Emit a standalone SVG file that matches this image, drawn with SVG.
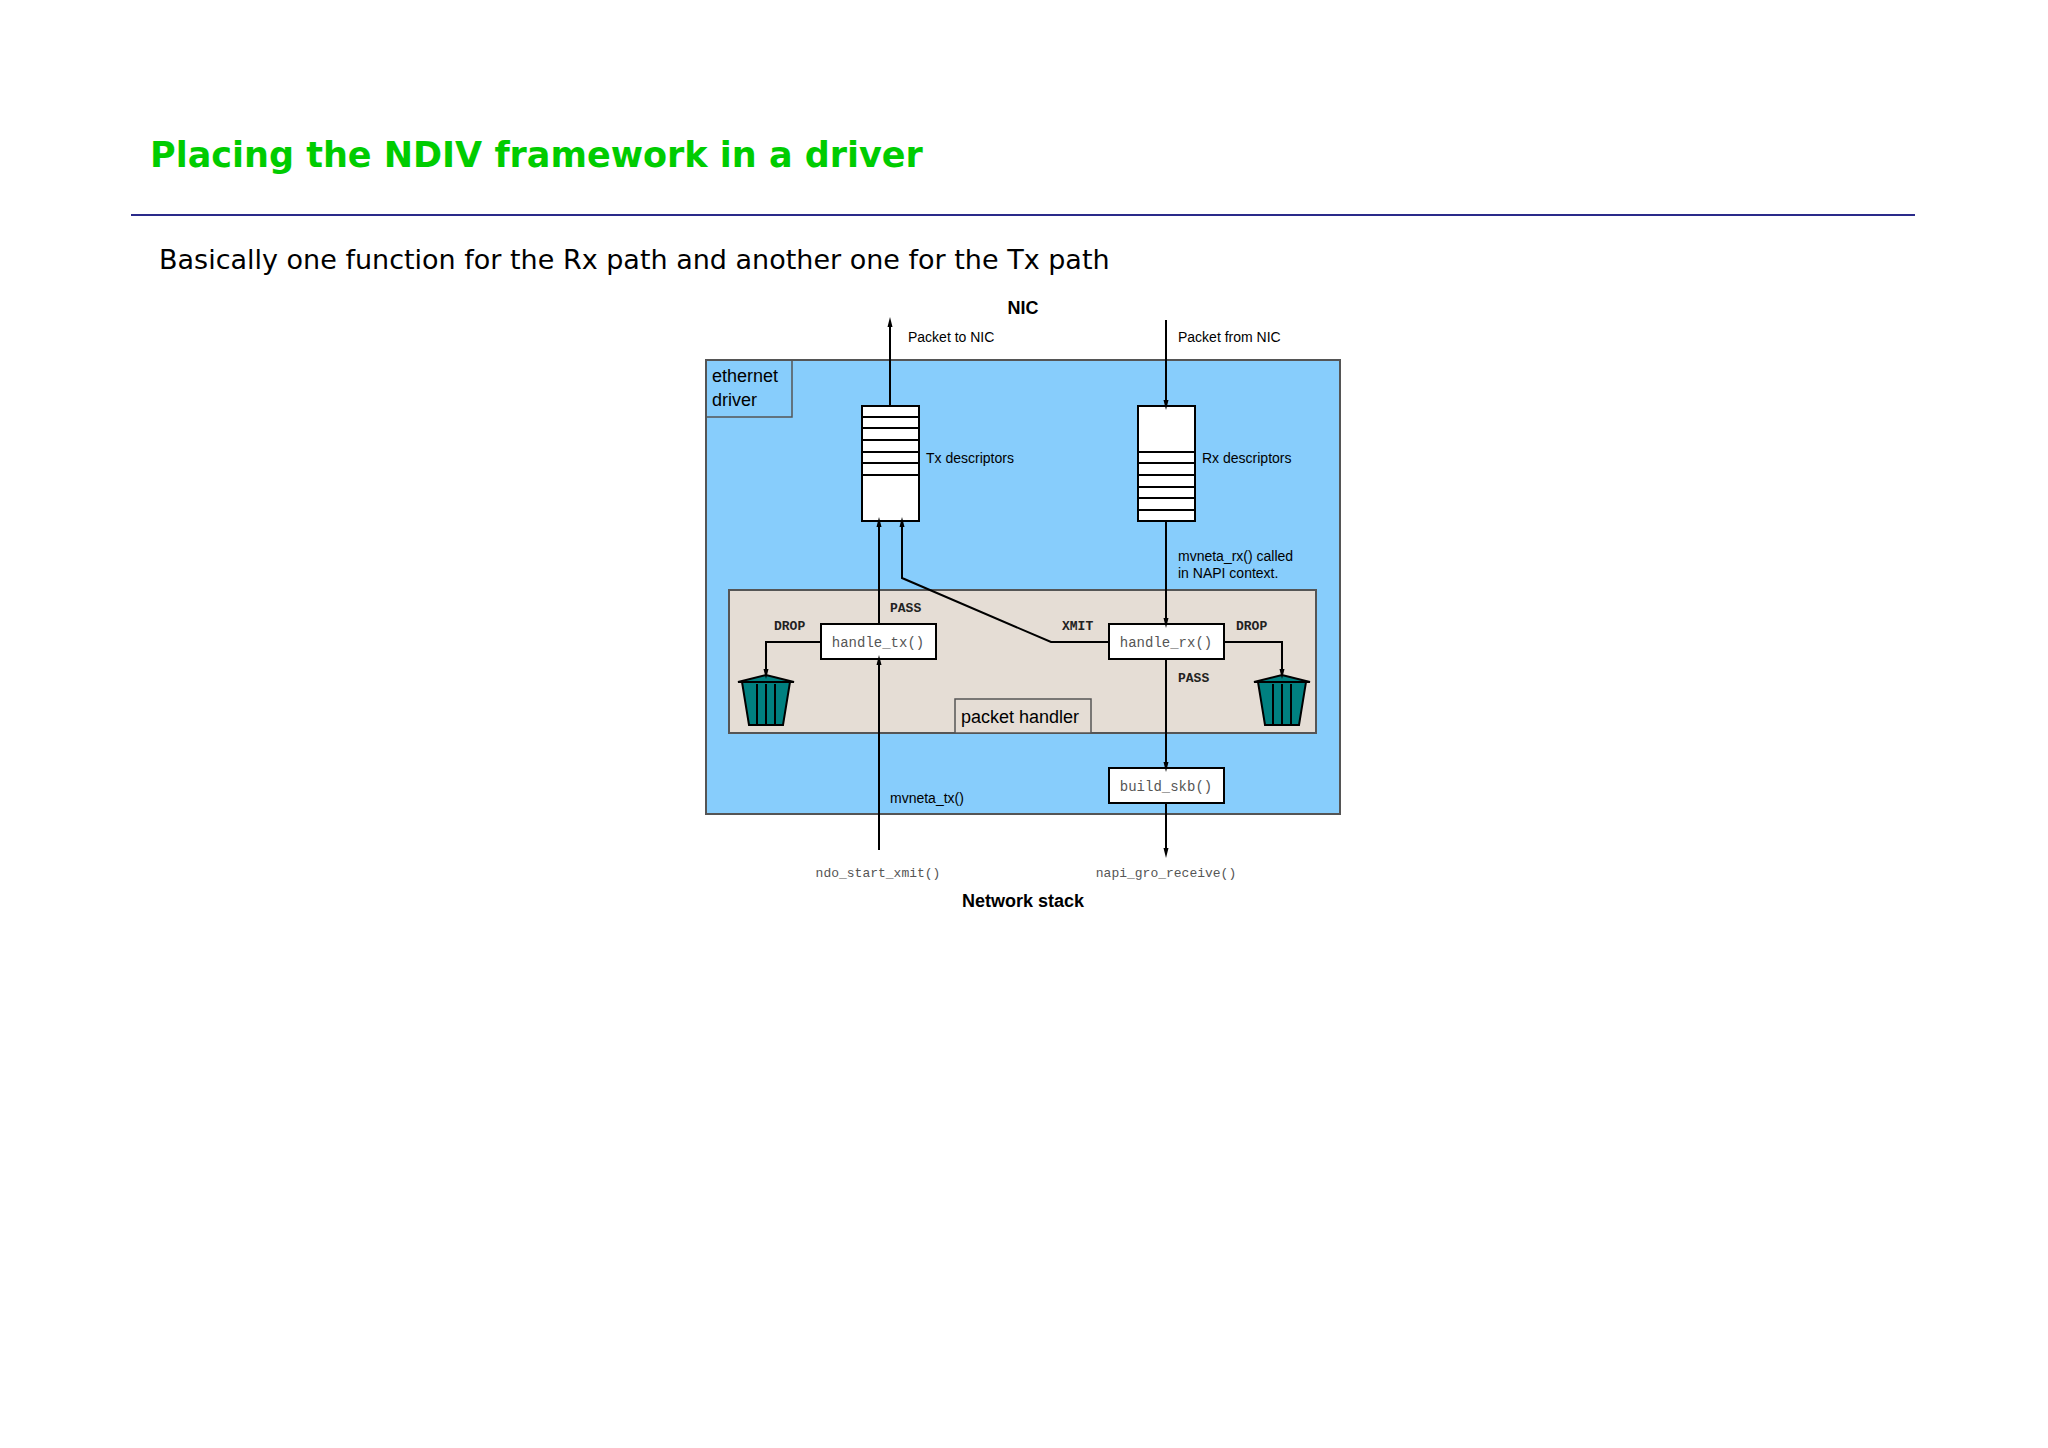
<svg xmlns="http://www.w3.org/2000/svg" width="2048" height="1448" viewBox="0 0 2048 1448">
<style>
.s{font-family:"Liberation Sans",Arial,sans-serif;fill:#000}
.m{font-family:"Liberation Mono","Courier New",monospace;fill:#555}
.mb{font-family:"Liberation Mono","Courier New",monospace;font-weight:bold;fill:#222;font-size:13px}
.box{fill:#fff;stroke:#000;stroke-width:2}
.ln{stroke:#000;stroke-width:2;fill:none}
.bin{fill:#008080;stroke:#000;stroke-width:2}
</style>
<defs><marker id="a" markerWidth="10" markerHeight="20" refX="10" refY="5" orient="auto" markerUnits="userSpaceOnUse" viewBox="0 0 20 10"><path d="M0,0 L20,5 L0,10 z" fill="#000"/></marker></defs>
<rect width="2048" height="1448" fill="#fff"/>
<text x="150" y="167" font-family="DejaVu Sans,sans-serif" font-weight="bold" font-size="35" fill="#00cc00">Placing the NDIV framework in a driver</text>
<line x1="131" y1="215" x2="1915" y2="215" stroke="#2a2a8a" stroke-width="2"/>
<text x="159" y="269" font-family="DejaVu Sans,sans-serif" font-size="27" fill="#000">Basically one function for the Rx path and another one for the Tx path</text>
<g id="driver"><rect x="706" y="360" width="634" height="454" fill="#87cdfc" stroke="#555" stroke-width="2"/>
<rect x="706" y="360" width="86" height="57" fill="none" stroke="#555" stroke-width="1.5"/>
<text class="s" x="712" y="382" font-size="18">ethernet</text><text class="s" x="712" y="406" font-size="18">driver</text></g>
<g id="handler"><rect x="729" y="590" width="587" height="143" fill="#e5ddd5" stroke="#555" stroke-width="2"/>
<rect x="955" y="699" width="136" height="34" fill="#e5ddd5" stroke="#555" stroke-width="1.5"/>
<text class="s" x="961" y="723" font-size="18">packet handler</text></g>
<text class="s" x="1023" y="314" font-size="18" font-weight="bold" text-anchor="middle">NIC</text>
<text class="s" x="1023" y="907" font-size="18" font-weight="bold" text-anchor="middle">Network stack</text>
<g id="tx"><rect class="box" x="862" y="406" width="57" height="115"/>
<path class="ln" d="M862,417H919M862,428H919M862,440H919M862,452H919M862,463H919M862,475H919"/>
<text class="s" x="926" y="463" font-size="14">Tx descriptors</text></g>
<g id="rx"><rect class="box" x="1138" y="406" width="57" height="115"/>
<path class="ln" d="M1138,452H1195M1138,463H1195M1138,475H1195M1138,487H1195M1138,498H1195M1138,510H1195"/>
<text class="s" x="1202" y="463" font-size="14">Rx descriptors</text></g>
<g id="htx"><rect class="box" x="821" y="624" width="115" height="35"/><text class="m" x="878" y="647" font-size="14" text-anchor="middle">handle_tx()</text></g>
<g id="hrx"><rect class="box" x="1109" y="624" width="115" height="35"/><text class="m" x="1166" y="647" font-size="14" text-anchor="middle">handle_rx()</text></g>
<g id="skb"><rect class="box" x="1109" y="768" width="115" height="35"/><text class="m" x="1166" y="791" font-size="14" text-anchor="middle">build_skb()</text></g>
<g id="bin1"><path class="bin" d="M742,682 L790,682 L783,725 L749,725 Z"/><path class="bin" d="M738,682 L766,675 L794,682 Z"/><path class="ln" d="M757,684V725M766,684V725M775,684V725" stroke-width="1.5"/></g>
<g id="bin2"><path class="bin" d="M1258,682 L1306,682 L1299,725 L1265,725 Z"/><path class="bin" d="M1254,682 L1282,675 L1310,682 Z"/><path class="ln" d="M1273,684V725M1282,684V725M1291,684V725" stroke-width="1.5"/></g>
<g id="connectors">
<line class="ln" x1="890" y1="406" x2="890" y2="322" marker-end="url(#a)"/>
<line class="ln" x1="1166" y1="320" x2="1166" y2="405" marker-end="url(#a)"/>
<line class="ln" x1="879" y1="624" x2="879" y2="522" marker-end="url(#a)"/>
<path class="ln" d="M1109,642 H1051 L902,578 V522" marker-end="url(#a)"/>
<line class="ln" x1="1166" y1="521" x2="1166" y2="623" marker-end="url(#a)"/>
<path class="ln" d="M821,642 H766 V674" marker-end="url(#a)"/>
<path class="ln" d="M1224,642 H1282 V674" marker-end="url(#a)"/>
<line class="ln" x1="1166" y1="659" x2="1166" y2="767" marker-end="url(#a)"/>
<line class="ln" x1="1166" y1="803" x2="1166" y2="853" marker-end="url(#a)"/>
<line class="ln" x1="879" y1="850" x2="879" y2="660" marker-end="url(#a)"/>
</g>
<text class="s" x="908" y="342" font-size="14">Packet to NIC</text>
<text class="s" x="1178" y="342" font-size="14">Packet from NIC</text>
<text class="s" x="1178" y="561" font-size="14">mvneta_rx() called</text>
<text class="s" x="1178" y="578" font-size="14">in NAPI context.</text>
<text class="mb" x="890" y="612">PASS</text>
<text class="mb" x="774" y="630">DROP</text>
<text class="mb" x="1062" y="630">XMIT</text>
<text class="mb" x="1236" y="630">DROP</text>
<text class="mb" x="1178" y="682">PASS</text>
<text class="s" x="890" y="803" font-size="14">mvneta_tx()</text>
<text class="m" x="878" y="877" font-size="13" text-anchor="middle">ndo_start_xmit()</text>
<text class="m" x="1166" y="877" font-size="13" text-anchor="middle">napi_gro_receive()</text>
</svg>
